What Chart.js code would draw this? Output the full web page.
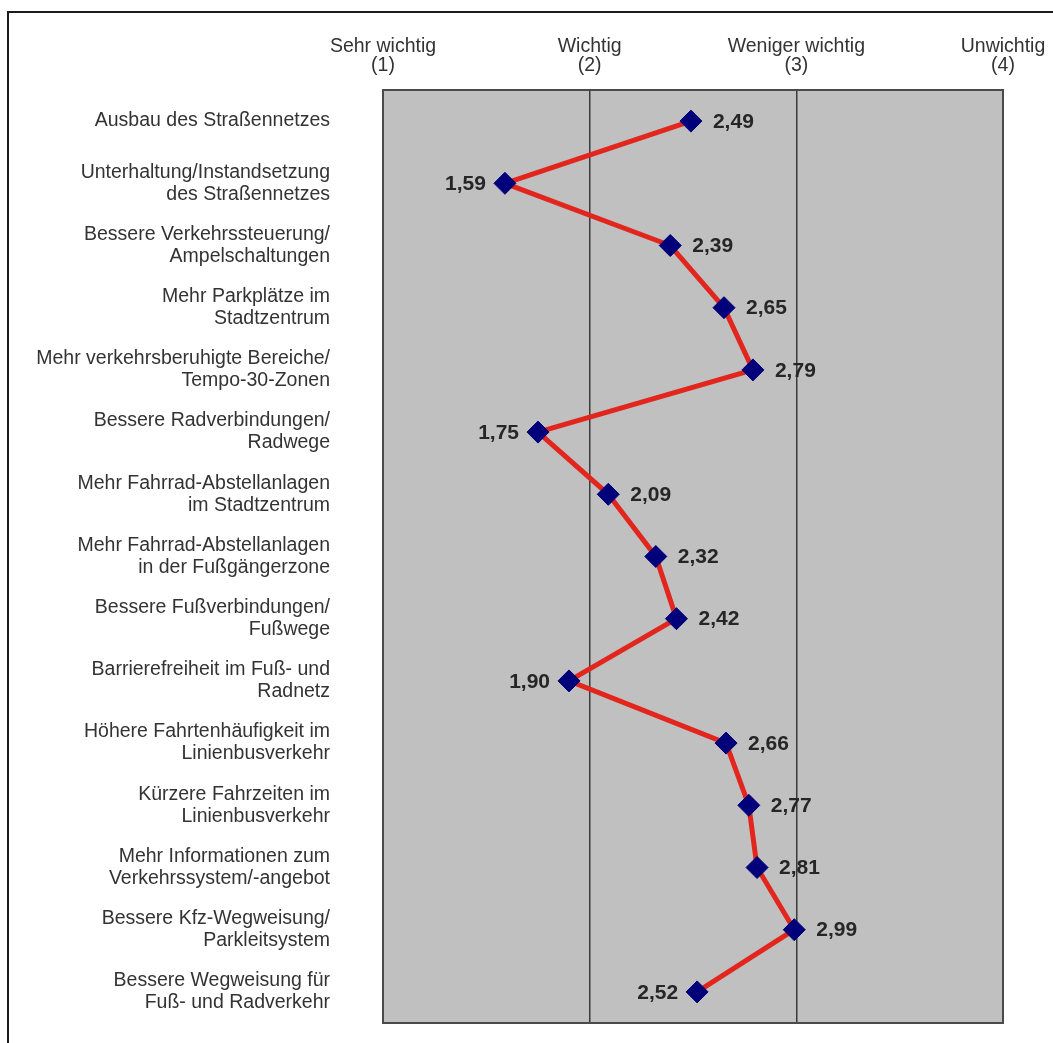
<!DOCTYPE html>
<html>
<head>
<meta charset="utf-8">
<title>Bewertung der Maßnahmen</title>
<script src="https://cdn.jsdelivr.net/npm/chart.js@4.4.1/dist/chart.umd.min.js"></script>
<style>
  html, body { margin: 0; padding: 0; background: #fff; overflow: hidden; }
  #frame {
    position: absolute; left: 7px; top: 11px; width: 1100px; height: 1100px;
    border-left: 2px solid #1c1c1c; border-top: 2px solid #1c1c1c;
  }
  #wrap { position: absolute; left: 0; top: 0; width: 1053px; height: 1043px; }
</style>
</head>
<body>
<div id="frame"></div>
<div id="wrap"><canvas id="c"></canvas></div>
<script>
// Maßnahmen (category axis, top to bottom)
const categories = [
  ["Ausbau des Straßennetzes"],
  ["Unterhaltung/Instandsetzung", "des Straßennetzes"],
  ["Bessere Verkehrssteuerung/", "Ampelschaltungen"],
  ["Mehr Parkplätze im", "Stadtzentrum"],
  ["Mehr verkehrsberuhigte Bereiche/", "Tempo-30-Zonen"],
  ["Bessere Radverbindungen/", "Radwege"],
  ["Mehr Fahrrad-Abstellanlagen", "im Stadtzentrum"],
  ["Mehr Fahrrad-Abstellanlagen", "in der Fußgängerzone"],
  ["Bessere Fußverbindungen/", "Fußwege"],
  ["Barrierefreiheit im Fuß- und", "Radnetz"],
  ["Höhere Fahrtenhäufigkeit im", "Linienbusverkehr"],
  ["Kürzere Fahrzeiten im", "Linienbusverkehr"],
  ["Mehr Informationen zum", "Verkehrssystem/-angebot"],
  ["Bessere Kfz-Wegweisung/", "Parkleitsystem"],
  ["Bessere Wegweisung für", "Fuß- und Radverkehr"]
];

// Mittelwerte der Bewertung (1 = sehr wichtig ... 4 = unwichtig)
const meanRatings = [2.49, 1.59, 2.39, 2.65, 2.79, 1.75, 2.09, 2.32, 2.42, 1.90, 2.66, 2.77, 2.81, 2.99, 2.52];

// Which side of the marker the value label sits on
const labelSide = ["right", "left", "right", "right", "right", "left", "right", "right", "right", "left", "right", "right", "right", "right", "left"];

// Scale labels for the values 1..4
const scaleValues = [1, 2, 3, 4];
const scaleLabels = [
  ["Sehr wichtig", "(1)"],
  ["Wichtig", "(2)"],
  ["Weniger wichtig", "(3)"],
  ["Unwichtig", "(4)"]
];

const FONT = "'Liberation Sans', Arial, Helvetica, sans-serif";
Chart.defaults.font.family = FONT;

const plotFrame = {
  id: 'plotFrame',
  beforeDraw(chart) {
    const { ctx, chartArea: a } = chart;
    ctx.save();
    ctx.fillStyle = '#c0c0c0';
    ctx.fillRect(a.left, a.top, a.right - a.left, a.bottom - a.top);
    ctx.restore();
  },
  beforeDatasetsDraw(chart) {
    const { ctx, chartArea: a } = chart;
    ctx.save();
    ctx.strokeStyle = '#4a4a4a';
    ctx.lineWidth = 2;
    ctx.strokeRect(a.left, a.top, a.right - a.left, a.bottom - a.top);
    ctx.restore();
  }
};

const valueLabels = {
  id: 'valueLabels',
  afterDatasetsDraw(chart) {
    const { ctx } = chart;
    const meta = chart.getDatasetMeta(0);
    ctx.save();
    ctx.font = "bold 21px " + FONT;
    ctx.fillStyle = '#262626';
    ctx.textBaseline = 'middle';
    meta.data.forEach((pt, i) => {
      const txt = meanRatings[i].toFixed(2).replace('.', ',');
      if (labelSide[i] === 'left') {
        ctx.textAlign = 'right';
        ctx.fillText(txt, pt.x - 19, pt.y + 1);
      } else {
        ctx.textAlign = 'left';
        ctx.fillText(txt, pt.x + 22, pt.y + 1);
      }
    });
    ctx.restore();
  }
};

new Chart(document.getElementById('c'), {
  type: 'line',
  data: {
    labels: categories,
    datasets: [{
      data: meanRatings,
      borderColor: '#e2251d',
      borderWidth: 5,
      tension: 0,
      pointStyle: 'rectRot',
      pointRadius: 11,
      pointBackgroundColor: '#00007a',
      pointBorderColor: '#00007a',
      pointBorderWidth: 1
    }]
  },
  options: {
    indexAxis: 'y',
    responsive: true,
    maintainAspectRatio: false,
    animation: false,
    devicePixelRatio: 1,
    layout: { padding: { left: 0, top: 0, right: 50, bottom: 20 } },
    plugins: { legend: { display: false }, tooltip: { enabled: false } },
    scales: {
      x: {
        type: 'linear',
        position: 'top',
        min: 1,
        max: 4,
        afterBuildTicks(scale) { scale.ticks = scaleValues.map(v => ({ value: v })); },
        afterFit(scale) {
          scale.height = 90;
          scale.paddingLeft = 0;
          scale.paddingRight = 0;
        },
        ticks: {
          callback: (v) => scaleLabels[scaleValues.indexOf(v)],
          font: { size: 19.5, lineHeight: '19px' },
          color: '#333',
          padding: 15,
          maxRotation: 0,
          autoSkip: false
        },
        grid: {
          drawTicks: false,
          color: (c) => (c.tick && (c.tick.value === 2 || c.tick.value === 3)) ? '#3a3a3a' : 'rgba(0,0,0,0)',
          lineWidth: 1.5
        },
        border: { display: false }
      },
      y: {
        type: 'category',
        offset: true,
        afterFit(scale) {
          scale.width = 383;
          scale.paddingTop = 0;
          scale.paddingBottom = 0;
        },
        ticks: {
          font: { size: 19.5, lineHeight: '22px' },
          color: '#333',
          padding: 45,
          autoSkip: false
        },
        grid: { display: false },
        border: { display: false }
      }
    }
  },
  plugins: [plotFrame, valueLabels]
});
</script>
</body>
</html>
